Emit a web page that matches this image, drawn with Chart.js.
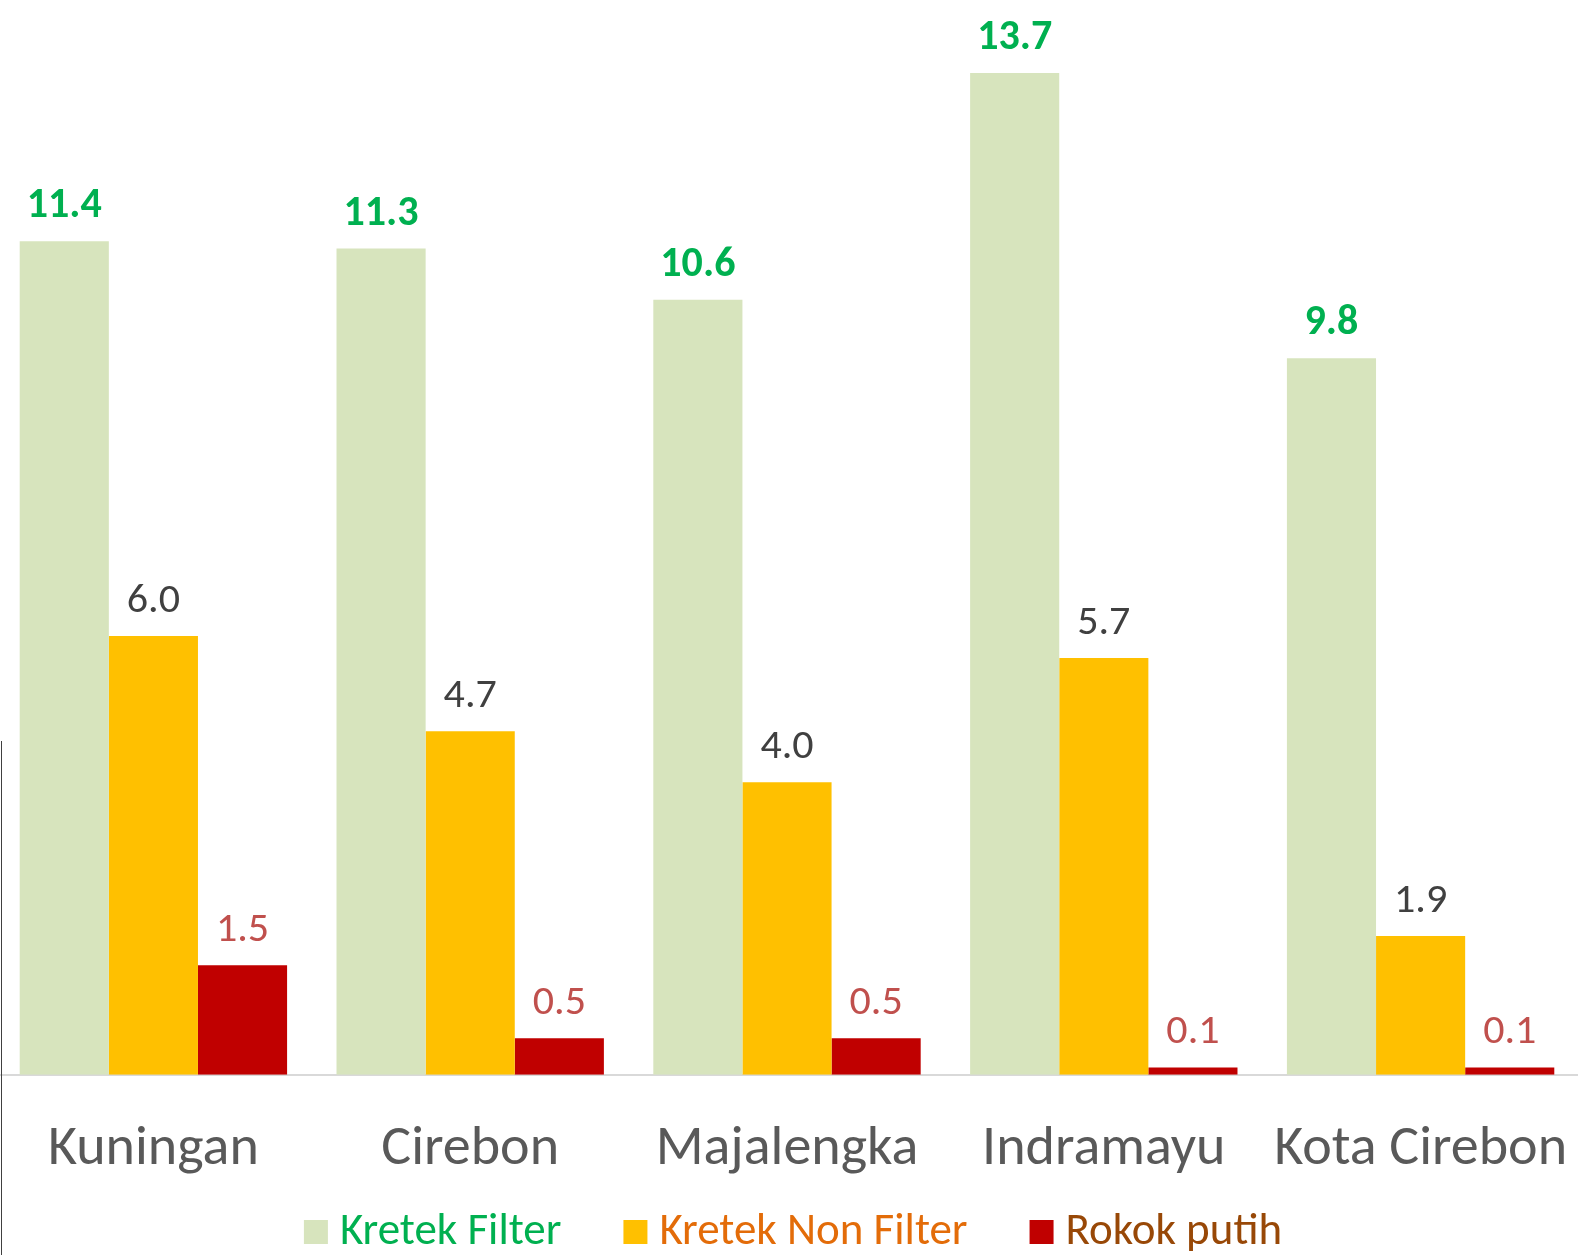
<!DOCTYPE html>
<html>
<head>
<meta charset="utf-8">
<script src="https://cdn.jsdelivr.net/npm/chart.js@4/dist/chart.umd.min.js"></script>
<style>
  html, body { margin: 0; padding: 0; background: #fff; overflow: hidden; }
  #wrap { position: relative; width: 1578px; height: 1255px; overflow: hidden; }
  #chart { position: absolute; left: -5px; top: 0; }
  #edge { position: absolute; left: 1px; top: 741px; width: 1px; height: 514px; background: #404040; }
</style>
</head>
<body>
<div id="wrap">
  <canvas id="chart" width="1584" height="1255"></canvas>
  <div id="edge"></div>
</div>
<script>
// Data.
const categories = ["Kuningan", "Cirebon", "Majalengka", "Indramayu", "Kota Cirebon"];
const kretekFilter = [11.4, 11.3, 10.6, 13.7, 9.8];
const kretekNonFilter = [6.0, 4.7, 4.0, 5.7, 1.9];
const rokokPutih = [1.5, 0.5, 0.5, 0.1, 0.1];
const seriesNames = ["Kretek Filter", "Kretek Non Filter", "Rokok putih"];

const FONT = "Carlito, Lato, 'Open Sans', sans-serif";
const barColors = ['#d7e4bd', '#ffc000', '#c00000'];
const valueColors = ['#00b050', '#404040', '#c0504d'];
const legendColors = ['#00b050', '#e36c09', '#984807'];

// value labels above each bar
const valueLabels = {
  id: 'valueLabels',
  afterDatasetsDraw(chart) {
    const ctx = chart.ctx;
    ctx.save();
    ctx.textAlign = 'center';
    ctx.textBaseline = 'alphabetic';
    chart.data.datasets.forEach((ds, i) => {
      const meta = chart.getDatasetMeta(i);
      ctx.fillStyle = valueColors[i];
      ctx.font = (i === 0 ? 'bold ' : '') + '42px ' + FONT;
      meta.data.forEach((bar, j) => {
        ctx.fillText(ds.data[j].toFixed(1), bar.x, bar.y - 24);
      });
    });
    ctx.restore();
  }
};

// legend drawn at the bottom, each entry in its own colour
const bottomLegend = {
  id: 'bottomLegend',
  afterDraw(chart) {
    const ctx = chart.ctx;
    ctx.save();
    ctx.font = '45px ' + FONT;
    const box = 24, gapText = 12, gapItem = 62;
    const widths = seriesNames.map(n => ctx.measureText(n).width);
    let total = 0;
    widths.forEach((w, i) => { total += box + gapText + w + (i < widths.length - 1 ? gapItem : 0); });
    let x = 798 - total / 2;
    const y = 1220;
    ctx.textBaseline = 'alphabetic';
    ctx.textAlign = 'left';
    seriesNames.forEach((n, i) => {
      ctx.fillStyle = barColors[i];
      ctx.fillRect(x, y, box, box);
      x += box + gapText;
      ctx.fillStyle = legendColors[i];
      ctx.fillText(n, x, 1244);
      x += widths[i] + gapItem;
    });
    ctx.restore();
  }
};

new Chart(document.getElementById('chart'), {
  type: 'bar',
  data: {
    labels: categories,
    datasets: [
      { label: seriesNames[0], data: kretekFilter, backgroundColor: barColors[0] },
      { label: seriesNames[1], data: kretekNonFilter, backgroundColor: barColors[1] },
      { label: seriesNames[2], data: rokokPutih, backgroundColor: barColors[2] }
    ]
  },
  options: {
    responsive: false,
    animation: false,
    devicePixelRatio: 1,
    layout: { padding: { top: 0, bottom: 29, left: 0, right: 0 } },
    datasets: { bar: { categoryPercentage: 0.844, barPercentage: 1 } },
    plugins: {
      legend: { display: false },
      tooltip: { enabled: false }
    },
    scales: {
      x: {
        grid: { display: false, drawTicks: false },
        border: { display: true, color: '#d9d9d9', width: 2 },
        ticks: { color: '#595959', font: { family: FONT, size: 56 }, padding: 42, maxRotation: 0, autoSkip: false },
        afterFit(scale) { scale.paddingLeft = 0; scale.paddingRight = 0; }
      },
      y: {
        display: false,
        min: 0,
        max: 14.7
      }
    }
  },
  plugins: [valueLabels, bottomLegend]
});
</script>
</body>
</html>
